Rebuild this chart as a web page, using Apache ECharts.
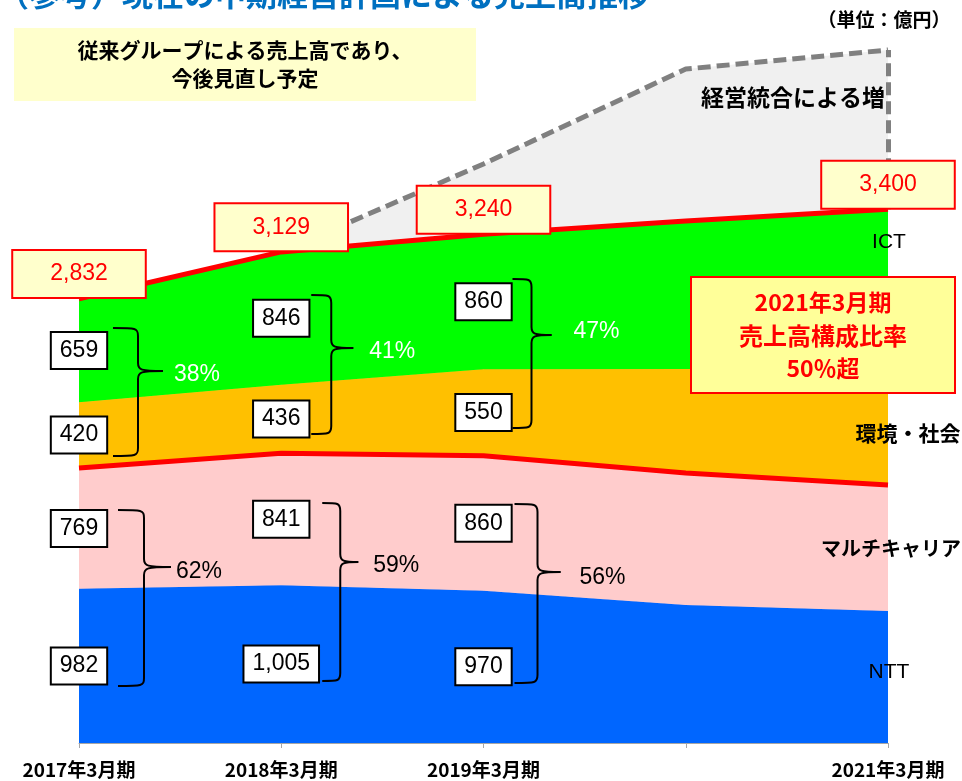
<!DOCTYPE html>
<html><head><meta charset="utf-8">
<script src="https://cdn.jsdelivr.net/npm/echarts@6/dist/echarts.min.js"></script>
<style>html,body{margin:0;padding:0;background:#fff}#c{width:962px;height:781px}</style>
</head><body><div id="c"></div>
<script>
// ---- data ----
const categories = ['2017年3月期', '2018年3月期', '2019年3月期', '2020年3月期', '2021年3月期'];
const ntt = [982, 1005, 970, 879, 841];
const multiCarrier = [769, 841, 860, 841, 802];
const envSocial = [420, 436, 550, 662, 746];
const ict = [659, 846, 860, 943, 1011];
const mergeIncrease = ['-', 0, 448, 968, 1014];
const totals = [2832, 3129, 3240, null, 3400];
const upperShare = ['38%', '41%', '47%'];
const lowerShare = ['62%', '59%', '56%'];
const labeledYearCount = 3;

const JP = "'Noto Sans CJK JP', sans-serif";
const LAT = "'Liberation Sans', Arial, sans-serif";

const chart = echarts.init(document.getElementById('c'), null, {renderer: 'canvas'});

function fmt(v) { return Number(v).toLocaleString('en-US'); }

function labelBar(name, arr) {
  return {
    name: name + '_lbl', type: 'bar', stack: 'lbl', barWidth: 1, z: 6,
    itemStyle: {color: 'rgba(0,0,0,0)'},
    silent: true,
    data: arr.map((v, i) => ({
      value: v,
      label: {show: i < labeledYearCount}
    })),
    label: {
      position: 'inside', formatter: p => fmt(p.value),
      color: '#000', fontSize: 23, fontFamily: LAT,
      backgroundColor: '#fff', borderColor: '#000', borderWidth: 2,
      padding: [6, 8, 5, 8], lineHeight: 24
    }
  };
}

function areaSeries(name, arr, color, line, z) {
  return {
    name, type: 'line', stack: 'a', data: arr, symbol: 'none', z,
    areaStyle: {color, opacity: 1},
    lineStyle: line || {color, width: 1},
    emphasis: {disabled: true}
  };
}

const ictSeries = areaSeries('ICT', ict, '#00FF00', {color: '#FF0000', width: 5}, 3);
ictSeries.markPoint = {
  symbol: 'circle', symbolSize: 1, itemStyle: {color: 'rgba(0,0,0,0)'}, z: 10,
  silent: true,
  data: totals.map((t, i) => t == null ? null : {coord: [i, t], value: t}).filter(Boolean),
  label: {
    show: true, position: 'top', distance: 1,
    formatter: p => fmt(p.value),
    color: '#FF0000', fontSize: 23, fontFamily: LAT,
    backgroundColor: '#FFFFCC', borderColor: '#FF0000', borderWidth: 2,
    padding: [11, 37, 11, 37], lineHeight: 24
  }
};

const mergeSeries = areaSeries('経営統合による増', mergeIncrease, '#F0F0F0',
  {color: '#808080', width: 5, type: [13, 6]}, 2);
mergeSeries.markLine = {
  silent: true, symbol: ['none', 'none'], label: {show: false},
  lineStyle: {color: '#808080', width: 5, type: [13, 6]},
  data: [[{coord: [4, totals[4]]}, {coord: [4, totals[4] + mergeIncrease[4]]}]]
};

chart.setOption({
  animation: false,
  grid: {left: 79, right: 74, top: 36.5, bottom: 38},
  xAxis: {
    type: 'category', data: categories, boundaryGap: false,
    axisLine: {lineStyle: {color: '#A6A6A6', width: 1}},
    axisTick: {show: true, length: 5, interval: 0, lineStyle: {color: '#A6A6A6'}},
    axisLabel: {
      interval: 0, margin: 17, color: '#000', fontSize: 19, fontWeight: 'bold', fontFamily: JP,
      formatter: (v, i) => i === 3 ? '' : v
    },
    splitLine: {show: false}
  },
  yAxis: {type: 'value', min: 0, max: 4500, show: false, splitLine: {show: false}},
  series: [
    areaSeries('NTT', ntt, '#0066FF', null, 2),
    areaSeries('マルチキャリア', multiCarrier, '#FFCCCC', {color: '#FF0000', width: 5}, 4),
    areaSeries('環境・社会', envSocial, '#FFC000', null, 2),
    ictSeries,
    mergeSeries,
    labelBar('NTT', ntt),
    labelBar('マルチキャリア', multiCarrier),
    labelBar('環境・社会', envSocial),
    labelBar('ICT', ict)
  ]
});

// ---- annotations ----
function px(i) { return chart.convertToPixel({xAxisIndex: 0}, categories[i]); }

function text(t, x, y, size, fill, bold, family, align) {
  return {
    type: 'text', z: 100, silent: true,
    style: {
      text: t, x, y, fill,
      font: (bold ? 'bold ' : '') + size + 'px ' + (family || JP),
      align: align || 'center', verticalAlign: 'middle',
      textAlign: align || 'center', textVerticalAlign: 'middle'
    }
  };
}

const braceStyle = {stroke: '#000', lineWidth: 2, fill: null};
function curve(x1, y1, cx1, cy1, cx2, cy2, x2, y2) {
  return {type: 'bezierCurve', z: 100, silent: true,
          shape: {x1, y1, cpx1: cx1, cpy1: cy1, cpx2: cx2, cpy2: cy2, x2, y2}, style: braceStyle};
}
function seg(x1, y1, x2, y2) {
  return {type: 'line', z: 100, silent: true, shape: {x1, y1, x2, y2}, style: braceStyle};
}
function brace(x1, xv, xt, y1, y2, ym) {
  const r = 8;
  return [
    curve(x1, y1, xv - 2, y1, xv, y1, xv, y1 + r),
    seg(xv, y1 + r, xv, ym - r),
    curve(xv, ym - r, xv, ym - 1, xv + 3, ym, xt, ym),
    curve(xt, ym, xv + 3, ym, xv, ym + 1, xv, ym + r),
    seg(xv, ym + r, xv, y2 - r),
    curve(xv, y2 - r, xv, y2, xv - 2, y2, x1, y2)
  ];
}

// brace geometry relative to each category tick (annotation layout)
const upperBraces = [
  {dx1: 34, dxv: 59, dxt: 84, y1: 328, y2: 456, ym: 371, tx: 118, ty: 375},
  {dx1: 30, dxv: 50, dxt: 72, y1: 295, y2: 434, ym: 348, tx: 111, ty: 352},
  {dx1: 29, dxv: 48, dxt: 68, y1: 279, y2: 428, ym: 335, tx: 113, ty: 332}
];
const lowerBraces = [
  {dx1: 39, dxv: 65, dxt: 92, y1: 510, y2: 686, ym: 567, tx: 120, ty: 572},
  {dx1: 41, dxv: 59, dxt: 77, y1: 503, y2: 681, ym: 562, tx: 115, ty: 566},
  {dx1: 31, dxv: 54, dxt: 77, y1: 504, y2: 683, ym: 572, tx: 119, ty: 578}
];

const g = [];
// title (cut at top)
g.push(text('（参考）現在の中期経営計画による売上高推移', -2, -6, 31, '#0070C0', true, JP, 'left'));
g.push(text('（単位：億円）', 884, 20, 19, '#000', true));
// note box
g.push({type: 'rect', z: 99, silent: true, shape: {x: 14, y: 28, width: 462, height: 73}, style: {fill: '#FFFFCC'}});
g.push(text('従来グループによる売上高であり、', 245, 50, 21, '#000', true));
g.push(text('今後見直し予定', 245, 78, 21, '#000', true));
// merge label
g.push(text('経営統合による増', 793, 97, 23, '#000', true));
// big callout box
g.push({type: 'rect', z: 99, silent: true, shape: {x: 691, y: 277, width: 264, height: 116},
        style: {fill: '#FFFF99', stroke: '#FF0000', lineWidth: 2}});
g.push(text('2021年3月期', 823, 302, 23, '#FF0000', true));
g.push(text('売上高構成比率', 823, 336, 24, '#FF0000', true));
g.push(text('50％超', 823, 368, 23, '#FF0000', true));
// right side series names
g.push(text('ICT', 889, 242, 21, '#000', false, LAT));
g.push(text('環境・社会', 908, 433, 21, '#000', true));
g.push(text('マルチキャリア', 891, 548, 20, '#000', true));
g.push(text('NTT', 889, 672, 21, '#000', false, LAT));

for (let i = 0; i < 3; i++) {
  const c = px(i);
  const u = upperBraces[i], l = lowerBraces[i];
  g.push(...brace(c + u.dx1, c + u.dxv, c + u.dxt, u.y1, u.y2, u.ym));
  g.push(...brace(c + l.dx1, c + l.dxv, c + l.dxt, l.y1, l.y2, l.ym));
  g.push(text(upperShare[i], c + u.tx, u.ty, 23, '#fff', false, LAT));
  g.push(text(lowerShare[i], c + l.tx, l.ty, 23, '#000', false, LAT));
}

chart.setOption({graphic: g});
</script>
</body></html>
